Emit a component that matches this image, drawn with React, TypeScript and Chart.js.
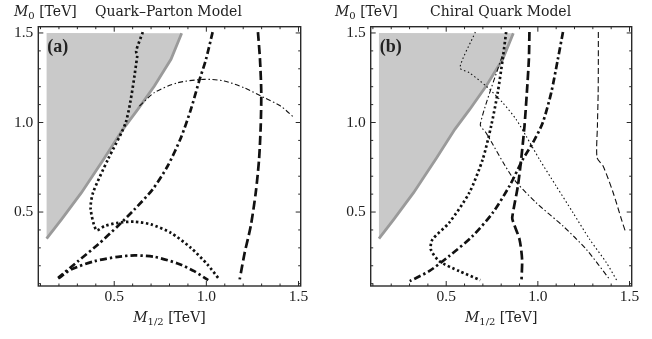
import React, { useEffect, useRef } from 'react';
import { Chart, registerables } from 'chart.js';

Chart.register(...registerables);

type P = [number, number];

// Axis ranges (TeV)
const X_MIN = 0.088;
const X_MAX = 1.512;
const Y_MIN = 0.087;
const Y_MAX = 1.535;

const majorTicks = [0.5, 1.0, 1.5];
const tickLabels = ['0.5', '1.0', '1.5'];

const panelLabels = ['(a)', '(b)'];
const panelTitles = ['Quark–Parton Model', 'Chiral Quark Model'];

// Excluded (shaded) region, shared by both panels
const excludedCorner: P = [0.133, 1.5];
const excludedBoundary: P[] = [
  [0.133, 0.351], [0.214, 0.459], [0.322, 0.608], [0.448, 0.803], [0.547, 0.962],
  [0.628, 1.073], [0.718, 1.204], [0.808, 1.353], [0.866, 1.498],
];

// Panel (a): Quark–Parton Model
const aDottedThick: P[] = [
  [0.655, 1.505], [0.619, 1.399], [0.625, 1.371], [0.565, 1.008], [0.466, 0.794],
  [0.385, 0.608], [0.372, 0.518], [0.403, 0.399], [0.448, 0.422], [0.52, 0.44],
  [0.61, 0.446], [0.7, 0.431], [0.808, 0.384], [0.916, 0.3], [1.006, 0.207], [1.07, 0.124],
];
const aDashDotThickUpper: P[] = [
  [1.034, 1.505], [0.998, 1.353], [0.961, 1.232], [0.916, 1.073], [0.862, 0.915],
  [0.79, 0.757], [0.709, 0.627], [0.61, 0.515], [0.52, 0.422], [0.412, 0.319],
  [0.304, 0.226], [0.196, 0.133],
];
const aDashDotThickLower: P[] = [
  [0.196, 0.129], [0.268, 0.18], [0.394, 0.226], [0.52, 0.25], [0.61, 0.258],
  [0.718, 0.25], [0.844, 0.213], [0.934, 0.17], [1.01, 0.12],
];
const aDashDotThin: P[] = [
  [0.637, 1.092], [0.718, 1.167], [0.844, 1.222], [0.988, 1.241], [1.097, 1.232],
  [1.205, 1.194], [1.313, 1.139], [1.403, 1.092], [1.471, 1.032],
];
const aDashedThick: P[] = [
  [1.28, 1.505], [1.291, 1.353], [1.298, 1.167], [1.295, 0.98], [1.286, 0.794],
  [1.268, 0.608], [1.241, 0.422], [1.208, 0.273], [1.181, 0.124],
];

// Panel (b): Chiral Quark Model
const bDottedThin: P[] = [
  [0.659, 1.505], [0.575, 1.306], [0.626, 1.278], [0.717, 1.204], [0.808, 1.111],
  [0.881, 1.018], [0.936, 0.924], [1.009, 0.794], [1.1, 0.645], [1.192, 0.496],
  [1.283, 0.347], [1.374, 0.217], [1.433, 0.114],
];
const bDashDotThin: P[] = [
  [0.805, 1.371], [0.686, 0.99], [0.717, 0.943], [0.863, 0.692], [0.991, 0.552],
  [1.137, 0.422], [1.265, 0.291], [1.389, 0.127],
];
const bDottedThick: P[] = [
  [0.827, 1.505], [0.808, 1.353], [0.781, 1.167], [0.745, 0.98], [0.699, 0.794],
  [0.626, 0.608], [0.516, 0.44], [0.425, 0.347], [0.416, 0.291], [0.462, 0.226],
  [0.571, 0.17], [0.686, 0.12],
];
const bDashedThick: P[] = [
  [0.954, 1.505], [0.951, 1.353], [0.94, 1.167], [0.927, 0.98], [0.909, 0.794],
  [0.891, 0.645], [0.86, 0.468], [0.867, 0.44], [0.9, 0.347], [0.914, 0.235], [0.911, 0.124],
];
const bDashDotThick: P[] = [
  [1.137, 1.505], [1.109, 1.353], [1.073, 1.167], [1.027, 1.0], [0.973, 0.887],
  [0.918, 0.794], [0.845, 0.645], [0.754, 0.496], [0.644, 0.366], [0.516, 0.254],
  [0.407, 0.17], [0.301, 0.114],
];
const bDashedThin: P[] = [
  [1.33, 1.505], [1.33, 1.353], [1.329, 1.167], [1.325, 0.98], [1.323, 0.803],
  [1.356, 0.757], [1.411, 0.608], [1.456, 0.459], [1.48, 0.384],
];

type StyleKey = 'dotThick' | 'dashDotThick' | 'dashDotThin' | 'dashThick' | 'dotThin' | 'dashThin';
const STYLES: Record<StyleKey, { w: number; dash: number[] }> = {
  dotThick: { w: 2.7, dash: [2.4, 2.6] },
  dashDotThick: { w: 2.7, dash: [7, 3, 2.4, 3] },
  dashDotThin: { w: 1.1, dash: [5, 2.5, 1.5, 2.5] },
  dashThick: { w: 2.7, dash: [9, 4] },
  dotThin: { w: 1.1, dash: [1.5, 2.5] },
  dashThin: { w: 1.1, dash: [6, 3] },
};

const SERIF = '"Liberation Serif", "Times New Roman", serif';
const TITLE_FONT = '"DejaVu Serif", serif';

const toXY = (pts: P[]) => pts.map(([x, y]) => ({ x, y }));

function curve(pts: P[], style: StyleKey) {
  const s = STYLES[style];
  return {
    data: toXY(pts),
    borderColor: '#111',
    borderWidth: s.w,
    borderDash: s.dash,
    borderCapStyle: 'butt',
    tension: 0.25,
    pointRadius: 0,
    fill: false,
    order: 0,
  };
}

function excludedDatasets() {
  return [
    {
      data: toXY([excludedCorner, ...excludedBoundary]),
      borderWidth: 0,
      borderColor: 'rgba(0,0,0,0)',
      backgroundColor: '#c9c9c9',
      fill: 'shape',
      pointRadius: 0,
      tension: 0,
      order: 10,
    },
    {
      data: toXY(excludedBoundary),
      borderColor: '#9a9a9a',
      borderWidth: 2.8,
      pointRadius: 0,
      tension: 0,
      fill: false,
      order: 9,
    },
  ];
}

const isMajor = (v: number) => majorTicks.findIndex((m) => Math.abs(m - v) < 1e-6);
const isStep = (v: number) => Math.abs(v * 10 - Math.round(v * 10)) < 1e-6;

function drawMathLabel(ctx: CanvasRenderingContext2D, x: number, y: number, sub: string, align: 'left' | 'center', size: number) {
  const main = `italic ${size}px ${TITLE_FONT}`;
  const small = `${Math.round(size * 0.72)}px ${TITLE_FONT}`;
  const reg = `${size}px ${TITLE_FONT}`;
  ctx.font = main;
  const wM = ctx.measureText('M').width;
  ctx.font = small;
  const wS = ctx.measureText(sub).width;
  ctx.font = reg;
  const wT = ctx.measureText(' [TeV]').width;
  let sx = align === 'center' ? x - (wM + wS + wT) / 2 : x;
  ctx.textBaseline = 'alphabetic';
  ctx.textAlign = 'left';
  ctx.font = main;
  ctx.fillText('M', sx, y);
  sx += wM;
  ctx.font = small;
  ctx.fillText(sub, sx, y + 3);
  sx += wS;
  ctx.font = reg;
  ctx.fillText(' [TeV]', sx, y);
}

const overlayPlugin = {
  id: 'overlay',
  afterDraw(chart: any, _args: any, opts: any) {
    const { ctx, chartArea: a, scales } = chart;
    const xs = scales.x;
    const ys = scales.y;
    ctx.save();
    ctx.strokeStyle = '#2a2a2a';
    ctx.lineWidth = 1;
    xs.ticks.forEach((t: any) => {
      const v = t.value;
      if (v <= X_MIN || v >= X_MAX || !isStep(v)) return;
      const len = isMajor(v) >= 0 ? 5 : 2.5;
      const px = xs.getPixelForValue(v);
      ctx.beginPath();
      ctx.moveTo(px, a.bottom);
      ctx.lineTo(px, a.bottom - len);
      ctx.moveTo(px, a.top);
      ctx.lineTo(px, a.top + len);
      ctx.stroke();
    });
    ys.ticks.forEach((t: any) => {
      const v = t.value;
      if (v <= Y_MIN || v >= Y_MAX || !isStep(v)) return;
      const len = isMajor(v) >= 0 ? 5 : 2.5;
      const py = ys.getPixelForValue(v);
      ctx.beginPath();
      ctx.moveTo(a.left, py);
      ctx.lineTo(a.left + len, py);
      ctx.moveTo(a.right, py);
      ctx.lineTo(a.right - len, py);
      ctx.stroke();
    });
    ctx.lineWidth = 1.4;
    ctx.strokeRect(a.left, a.top, a.right - a.left, a.bottom - a.top);

    ctx.fillStyle = '#222';
    // panel tag
    ctx.font = `bold 18px ${SERIF}`;
    ctx.textAlign = 'left';
    ctx.textBaseline = 'alphabetic';
    ctx.fillText(opts.tag, a.left + 9, a.top + 25);
    // y title + model name
    drawMathLabel(ctx, opts.titleX, 16, '0', 'left', 14);
    ctx.font = `14px ${TITLE_FONT}`;
    ctx.textAlign = 'left';
    ctx.fillText(opts.model, opts.modelX, 16);
    // x title
    drawMathLabel(ctx, (a.left + a.right) / 2, 322, '1/2', 'center', 14);
    ctx.restore();
  },
};

interface PanelProps {
  left: number;
  areaLeft: number;
  areaRight: number;
  tag: string;
  model: string;
  titleX: number;
  modelX: number;
  datasets: any[];
}

const CANVAS_W = 326;
const CANVAS_H = 339;
const AREA_TOP = 26.7;
const AREA_BOTTOM = 286;

function Panel(props: PanelProps) {
  const ref = useRef<HTMLCanvasElement>(null);
  useEffect(() => {
    const tickFont = { family: SERIF, size: 15.5 };
    const label = (v: any) => {
      const i = isMajor(Number(v));
      return i >= 0 ? tickLabels[i] : '';
    };
    const chart = new Chart(ref.current!, {
      type: 'line',
      data: { datasets: [...props.datasets, ...excludedDatasets()] as any },
      options: {
        animation: false,
        responsive: false,
        devicePixelRatio: 1,
        layout: { padding: { top: AREA_TOP, right: CANVAS_W - props.areaRight, left: 0, bottom: 0 } },
        plugins: {
          legend: { display: false },
          tooltip: { enabled: false },
          overlay: { tag: props.tag, model: props.model, titleX: props.titleX, modelX: props.modelX },
        } as any,
        scales: {
          x: {
            type: 'linear',
            min: X_MIN,
            max: X_MAX,
            afterFit: (s: any) => { s.height = CANVAS_H - AREA_BOTTOM; },
            grid: { display: false, drawTicks: false },
            border: { display: false },
            ticks: { stepSize: 0.1, includeBounds: false, autoSkip: false, maxRotation: 0, padding: 2, font: tickFont, color: '#222', callback: label },
          },
          y: {
            type: 'linear',
            min: Y_MIN,
            max: Y_MAX,
            afterFit: (s: any) => { s.width = props.areaLeft; },
            grid: { display: false, drawTicks: false },
            border: { display: false },
            ticks: { stepSize: 0.1, includeBounds: false, autoSkip: false, padding: 5, font: tickFont, color: '#222', callback: label },
          },
        },
      },
      plugins: [overlayPlugin],
    });
    return () => chart.destroy();
  }, []);
  return (
    <canvas
      ref={ref}
      width={CANVAS_W}
      height={CANVAS_H}
      style={{ position: 'absolute', left: props.left, top: 0, width: CANVAS_W, height: CANVAS_H }}
    />
  );
}

export default function App() {
  const datasetsA = [
    curve(aDottedThick, 'dotThick'),
    curve(aDashDotThickUpper, 'dashDotThick'),
    curve(aDashDotThickLower, 'dashDotThick'),
    curve(aDashDotThin, 'dashDotThin'),
    curve(aDashedThick, 'dashThick'),
  ];
  const datasetsB = [
    curve(bDottedThin, 'dotThin'),
    curve(bDashDotThin, 'dashDotThin'),
    curve(bDottedThick, 'dotThick'),
    curve(bDashedThick, 'dashThick'),
    curve(bDashDotThick, 'dashDotThick'),
    curve(bDashedThin, 'dashThin'),
  ];
  return (
    <div style={{ position: 'absolute', left: 0, top: 0, width: 652, height: 339, background: '#fff' }}>
      <Panel left={0} areaLeft={38.3} areaRight={300.7} tag={panelLabels[0]} model={panelTitles[0]} titleX={14} modelX={95} datasets={datasetsA} />
      <Panel left={326} areaLeft={44.7} areaRight={305.7} tag={panelLabels[1]} model={panelTitles[1]} titleX={9} modelX={104} datasets={datasetsB} />
    </div>
  );
}
